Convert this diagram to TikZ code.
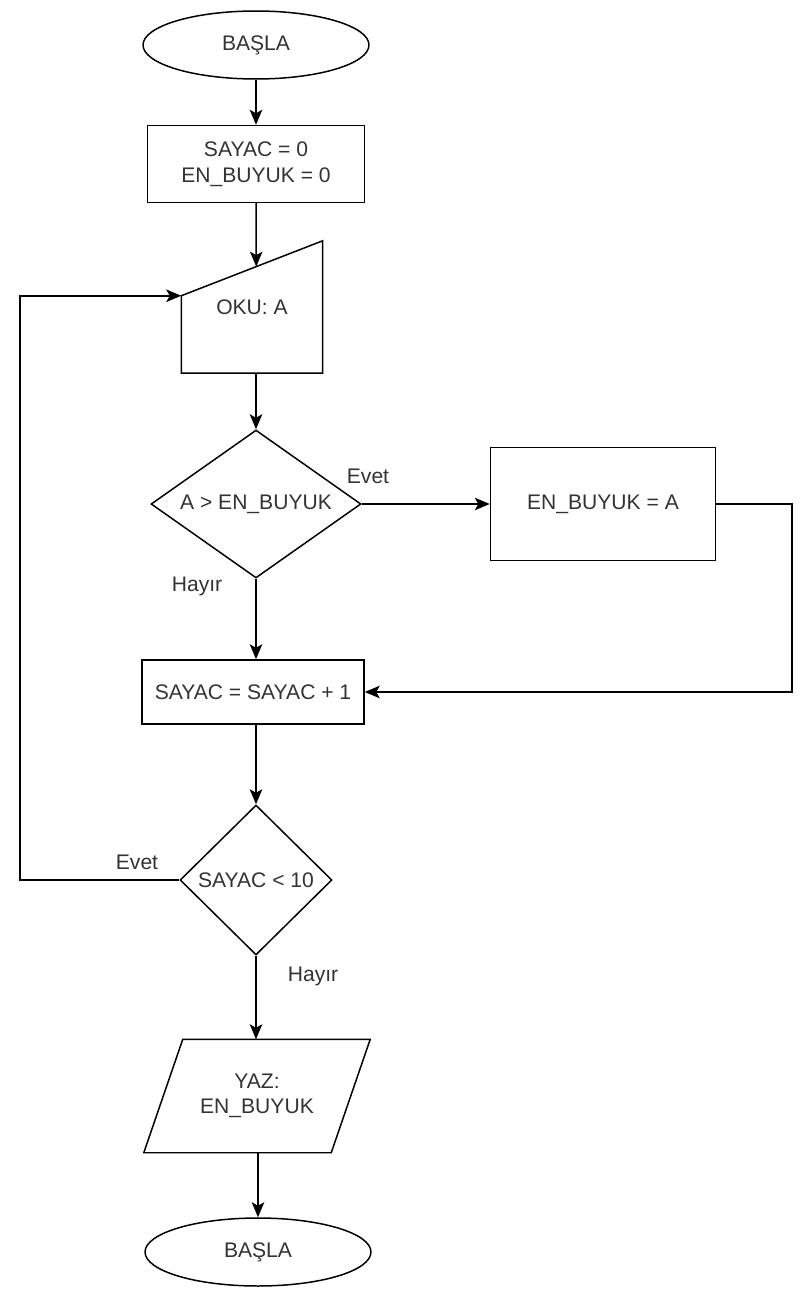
\documentclass[tikz,border=0pt]{standalone}
\usepackage{fontspec}
\setmainfont{Liberation Sans}
\usetikzlibrary{shapes.geometric, arrows.meta, calc}

\definecolor{labelgray}{RGB}{51,51,51}

\begin{document}
\begin{tikzpicture}[
                x=0.02cm, y=-0.02cm,
                line width=0.85pt,
                every node/.style={
                        font=\fontsize{12}{14.5}\selectfont,
                        text=labelgray,
                        align=center,
                        inner sep=0pt
                    },
                terminal/.style={draw, ellipse, minimum width=4.52cm, minimum height=1.36cm},
                procbox/.style={draw, rectangle},
                decision/.style={draw, diamond},
                flow/.style={-{Stealth[length=3mm, width=2.5mm, inset=0.7mm]}}
            ]

            \useasboundingbox (0,0) rectangle (800,1291);

            \node[terminal] (start) at (256,45) {BAŞLA};
            \node[procbox, minimum width=4.34cm, minimum height=1.54cm] (init) at (256,164) {SAYAC = 0\\EN\_BUYUK = 0};

            % manual input
            \node[minimum width=2.8cm, minimum height=2.62cm] (oku) at (252,307) {OKU: A};
            \coordinate (okunw) at ([yshift=-1.1cm]oku.north west);
            \draw (okunw) -- (oku.north east) -- (oku.south east) -- (oku.south west) -- cycle;
            \path (okunw) -- (oku.north east) coordinate[pos=0.53] (okuin);

            \node[decision, aspect=1.42, minimum width=4.2cm, minimum height=2.96cm] (dec1) at (256,504) {A > EN\_BUYUK};
            \node[procbox, minimum width=4.5cm, minimum height=2.26cm] (set) at (603,504) {EN\_BUYUK = A};
            \node[procbox, minimum width=4.44cm, minimum height=1.28cm] (incr) at (253,692) {SAYAC = SAYAC + 1};
            \node[decision, minimum width=3.04cm, minimum height=3cm] (dec2) at (256,880) {SAYAC < 10};

            % output
            \node[minimum width=4.5cm, minimum height=2.24cm] (out) at (257,1096) {YAZ:\\EN\_BUYUK};
            \draw ([xshift=0.78cm]out.north west) -- (out.north east) -- ([xshift=-0.78cm]out.south east) -- (out.south west) -- cycle;

            \node[terminal] (stop) at (258,1252) {BAŞLA};

            \node (evet1) at (368,476) {Evet};
            \node (hayir1) at (197,586) {Hayır};
            \node (evet2) at (137,862) {Evet};
            \node (hayir2) at (313,976) {Hayır};

            \coordinate (rightx) at (792,0);
            \coordinate (leftx) at (20,0);

            \draw[flow] (start) -- (init);
            \draw[flow] (init) -- (okuin);
            \draw[flow] (oku.south -| dec1.north) -- (dec1.north);
            \draw[flow] (dec1) -- (set);
            \draw[flow] (dec1.south) -- (dec1.south |- incr.north);
            \draw[flow] (set.east) -- (set.east -| rightx) |- (incr.east);
            \draw[flow] (incr.south -| dec2.north) -- (dec2.north);
            \draw[flow] (dec2.west) -- (dec2.west -| leftx) |- (okunw);
            \draw[flow] (dec2.south) -- (dec2.south |- out.north);
            \draw[flow] (out.south -| stop.north) -- (stop);

        \end{tikzpicture}
\end{document}
